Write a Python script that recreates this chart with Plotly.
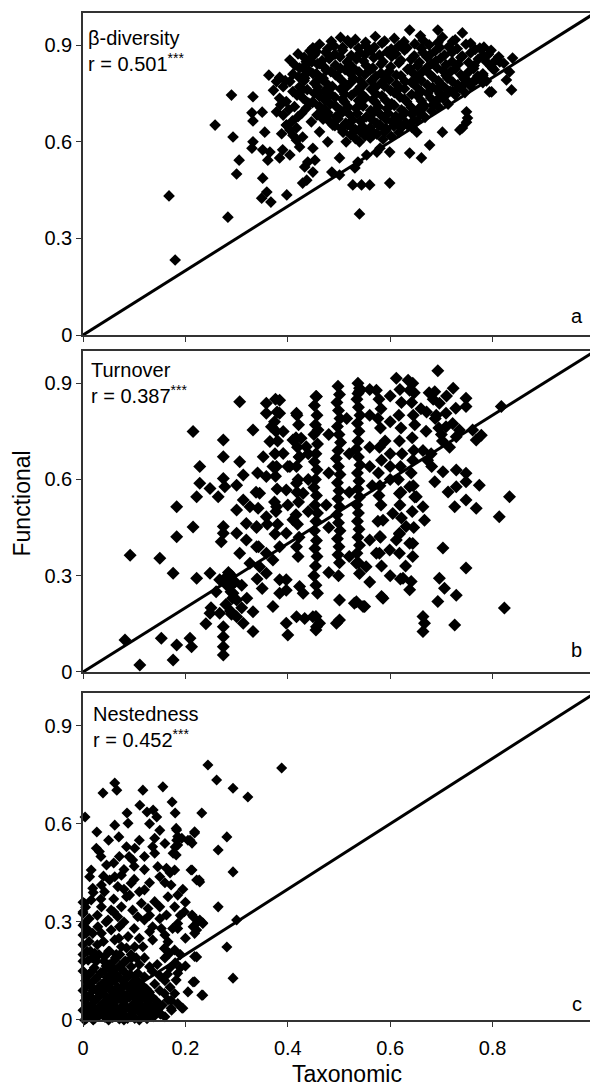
import plotly.graph_objects as go

# ---------------- data ----------------
x_ticks = [0, 0.2, 0.4, 0.6, 0.8, 1]
x_tick_labels = ["0", "0.2", "0.4", "0.6", "0.8", "1"]
y_ticks = [0, 0.3, 0.6, 0.9]
y_tick_labels = ["0", "0.3", "0.6", "0.9"]
ref_line = [0, 1]

# Panel a: beta-diversity
beta_x = [0.168, 0.18, 0.283, 0.258, 0.29, 0.293, 0.305, 0.30, 0.332, 0.33, 0.332, 0.35, 0.363, 0.384,
          0.355, 0.332, 0.33, 0.351, 0.365, 0.361, 0.351, 0.359, 0.349, 0.367, 0.398, 0.384, 0.39, 0.404,
          0.398, 0.404, 0.41, 0.417, 0.423, 0.429, 0.404, 0.414, 0.423, 0.42, 0.449, 0.447, 0.433, 0.439,
          0.449, 0.453, 0.449, 0.429, 0.437, 0.449, 0.457, 0.478, 0.486, 0.501, 0.501, 0.527, 0.544, 0.56,
          0.54, 0.599, 0.531, 0.537, 0.554, 0.574, 0.58, 0.599, 0.638, 0.661, 0.677, 0.652, 0.702, 0.736,
          0.749, 0.749, 0.794, 0.775, 0.741, 0.693, 0.638, 0.814, 0.833, 0.827, 0.837, 0.798, 0.751, 0.741,
          0.839,
          0.378, 0.391, 0.404, 0.384, 0.397, 0.41, 0.423, 0.43, 0.413, 0.391, 0.378, 0.42, 0.436, 0.397,
          0.446, 0.433, 0.449, 0.462, 0.475, 0.436, 0.456, 0.469, 0.459, 0.475, 0.465, 0.478, 0.488, 0.462,
          0.508, 0.514, 0.527, 0.54, 0.553, 0.566, 0.58, 0.592, 0.612, 0.625, 0.645, 0.664, 0.683, 0.703,
          0.722, 0.742, 0.762, 0.781, 0.80,
          0.503, 0.532, 0.571, 0.608, 0.659, 0.702, 0.727,
          0.462, 0.491, 0.523, 0.552, 0.584, 0.617, 0.648, 0.676, 0.714, 0.748, 0.783,
          0.443, 0.474, 0.507, 0.541, 0.563, 0.594, 0.628, 0.664, 0.688, 0.721, 0.757, 0.792,
          0.432, 0.481, 0.502, 0.534, 0.568, 0.603, 0.641, 0.672, 0.698, 0.738, 0.772, 0.806,
          0.458, 0.493, 0.518, 0.553, 0.582, 0.617, 0.653, 0.681, 0.709, 0.733, 0.764, 0.797,
          0.441, 0.484, 0.512, 0.539, 0.561, 0.598, 0.634, 0.662, 0.703, 0.718, 0.752, 0.781,
          0.421, 0.463, 0.497, 0.528, 0.572, 0.593, 0.621, 0.654, 0.683, 0.712, 0.744, 0.768, 0.788,
          0.452, 0.478, 0.523, 0.548, 0.583, 0.612, 0.641, 0.673, 0.698, 0.732, 0.757,
          0.438, 0.472, 0.503, 0.534, 0.563, 0.601, 0.628, 0.661, 0.692, 0.717, 0.746,
          0.461, 0.492, 0.524, 0.552, 0.584, 0.619, 0.652, 0.679, 0.706,
          0.448, 0.483, 0.511, 0.542, 0.571, 0.603, 0.632, 0.664, 0.688, 0.713,
          0.472, 0.503, 0.533, 0.562, 0.594, 0.622, 0.657, 0.681,
          0.463, 0.494, 0.521, 0.553, 0.582, 0.611, 0.643, 0.668,
          0.482, 0.513, 0.542, 0.574, 0.603, 0.631, 0.653,
          0.504, 0.532, 0.561, 0.592, 0.621, 0.642,
          0.523, 0.551, 0.574, 0.602]
beta_y = [0.432, 0.233, 0.366, 0.652, 0.745, 0.615, 0.543, 0.50, 0.74, 0.69, 0.665, 0.692, 0.807, 0.80,
          0.63, 0.60, 0.58, 0.575, 0.568, 0.543, 0.487, 0.444, 0.425, 0.413, 0.435, 0.55, 0.575, 0.559,
          0.652, 0.637, 0.62, 0.605, 0.584, 0.615, 0.854, 0.838, 0.829, 0.873, 0.87, 0.848, 0.522, 0.537,
          0.506, 0.543, 0.58, 0.472, 0.481, 0.724, 0.683, 0.60, 0.506, 0.55, 0.497, 0.466, 0.466, 0.466,
          0.376, 0.472, 0.519, 0.537, 0.559, 0.568, 0.58, 0.568, 0.565, 0.55, 0.59, 0.63, 0.63, 0.637,
          0.661, 0.693, 0.755, 0.891, 0.938, 0.947, 0.947, 0.848, 0.817, 0.792, 0.761, 0.755, 0.674, 0.643,
          0.86,
          0.787, 0.771, 0.787, 0.735, 0.725, 0.756, 0.771, 0.735, 0.709, 0.683, 0.693, 0.678, 0.704, 0.652,
          0.662, 0.797, 0.812, 0.843, 0.822, 0.849, 0.88, 0.797, 0.756, 0.735, 0.704, 0.683, 0.652, 0.631,
          0.631, 0.60, 0.642, 0.60, 0.631, 0.621, 0.652, 0.642, 0.662, 0.683, 0.693, 0.704, 0.714, 0.735,
          0.756, 0.776, 0.787, 0.807, 0.828,
          0.924, 0.918, 0.927, 0.921, 0.929, 0.925, 0.917,
          0.903, 0.897, 0.905, 0.899, 0.906, 0.898, 0.904, 0.901, 0.895, 0.903, 0.894,
          0.882, 0.878, 0.884, 0.876, 0.883, 0.879, 0.885, 0.877, 0.882, 0.878, 0.876, 0.872,
          0.862, 0.858, 0.864, 0.857, 0.861, 0.865, 0.856, 0.863, 0.859, 0.862, 0.857, 0.853,
          0.842, 0.838, 0.844, 0.837, 0.841, 0.845, 0.836, 0.843, 0.839, 0.842, 0.837, 0.834,
          0.822, 0.818, 0.824, 0.817, 0.823, 0.819, 0.825, 0.816, 0.821, 0.818, 0.815, 0.811,
          0.802, 0.798, 0.804, 0.797, 0.803, 0.799, 0.805, 0.796, 0.801, 0.798, 0.795, 0.792, 0.789,
          0.782, 0.778, 0.784, 0.777, 0.783, 0.779, 0.785, 0.776, 0.781, 0.777, 0.773,
          0.762, 0.758, 0.764, 0.757, 0.763, 0.759, 0.765, 0.756, 0.761, 0.757, 0.753,
          0.742, 0.738, 0.744, 0.737, 0.743, 0.739, 0.745, 0.736, 0.741,
          0.722, 0.718, 0.724, 0.717, 0.723, 0.719, 0.725, 0.716, 0.721, 0.717,
          0.702, 0.698, 0.704, 0.697, 0.703, 0.699, 0.705, 0.696,
          0.682, 0.678, 0.684, 0.677, 0.683, 0.679, 0.685, 0.676,
          0.662, 0.658, 0.664, 0.657, 0.663, 0.659, 0.665,
          0.642, 0.638, 0.644, 0.637, 0.643, 0.645,
          0.622, 0.618, 0.624, 0.617]
beta_extra = [
    (0.485, 0.912), (0.517, 0.914), (0.552, 0.909), (0.589, 0.913), (0.627, 0.911), (0.664, 0.915),
    (0.693, 0.908), (0.722, 0.912), (0.757, 0.906),
    (0.449, 0.892), (0.478, 0.889), (0.507, 0.893), (0.538, 0.891), (0.569, 0.894), (0.602, 0.888),
    (0.633, 0.892), (0.661, 0.890), (0.697, 0.893), (0.731, 0.889), (0.766, 0.887), (0.797, 0.884),
    (0.452, 0.870), (0.492, 0.872), (0.524, 0.868), (0.551, 0.871), (0.579, 0.869), (0.611, 0.873),
    (0.647, 0.867), (0.678, 0.871), (0.706, 0.869), (0.741, 0.866), (0.781, 0.868), (0.812, 0.864),
    (0.441, 0.850), (0.467, 0.852), (0.516, 0.848), (0.548, 0.851), (0.586, 0.849), (0.621, 0.853),
    (0.657, 0.847), (0.689, 0.851), (0.721, 0.849), (0.753, 0.846), (0.788, 0.848), (0.822, 0.844),
    (0.429, 0.830), (0.471, 0.832), (0.503, 0.828), (0.527, 0.831), (0.566, 0.829), (0.601, 0.833),
    (0.638, 0.827), (0.672, 0.831), (0.692, 0.829), (0.727, 0.826), (0.763, 0.828), (0.803, 0.824),
    (0.435, 0.810), (0.456, 0.812), (0.493, 0.808), (0.523, 0.811), (0.551, 0.809), (0.582, 0.813),
    (0.612, 0.807), (0.646, 0.811), (0.678, 0.809), (0.709, 0.806), (0.738, 0.808), (0.771, 0.804),
    (0.432, 0.790), (0.468, 0.792), (0.507, 0.788), (0.541, 0.791), (0.563, 0.789), (0.598, 0.793),
    (0.629, 0.787), (0.661, 0.791), (0.694, 0.789), (0.722, 0.786), (0.752, 0.788), (0.781, 0.784),
    (0.458, 0.770), (0.487, 0.772), (0.513, 0.768), (0.542, 0.771), (0.571, 0.769), (0.589, 0.773),
    (0.618, 0.767), (0.651, 0.771), (0.683, 0.769), (0.708, 0.766), (0.735, 0.768),
    (0.452, 0.750), (0.481, 0.752), (0.511, 0.748), (0.543, 0.751), (0.572, 0.749), (0.608, 0.753),
    (0.642, 0.747), (0.673, 0.751), (0.697, 0.749), (0.727, 0.746),
    (0.472, 0.730), (0.507, 0.732), (0.538, 0.728), (0.566, 0.731), (0.591, 0.729), (0.628, 0.733),
    (0.661, 0.727), (0.692, 0.731),
    (0.462, 0.710), (0.493, 0.712), (0.518, 0.708), (0.547, 0.711), (0.577, 0.709), (0.608, 0.713),
    (0.641, 0.707), (0.667, 0.711), (0.694, 0.709),
    (0.478, 0.690), (0.507, 0.692), (0.536, 0.688), (0.568, 0.691), (0.596, 0.689), (0.627, 0.693),
    (0.659, 0.687),
    (0.469, 0.670), (0.498, 0.672), (0.527, 0.668), (0.563, 0.671), (0.592, 0.669), (0.618, 0.673),
    (0.646, 0.667),
    (0.492, 0.650), (0.517, 0.652), (0.546, 0.648), (0.578, 0.651), (0.607, 0.649), (0.633, 0.653),
    (0.508, 0.630), (0.541, 0.632), (0.568, 0.628), (0.589, 0.631), (0.617, 0.629),
    (0.532, 0.610), (0.561, 0.612), (0.586, 0.608),
    (0.372, 0.760), (0.386, 0.715), (0.402, 0.700), (0.418, 0.745), (0.427, 0.688), (0.441, 0.720),
    (0.409, 0.665), (0.388, 0.625), (0.417, 0.643), (0.395, 0.790), (0.410, 0.810), (0.428, 0.760),
]

# Panel b: turnover
turn_x = [0.092, 0.082, 0.111, 0.15, 0.176, 0.153, 0.183, 0.176, 0.209, 0.212, 0.183, 0.215, 0.183, 0.215,
          0.228, 0.228, 0.222, 0.248, 0.222, 0.248, 0.274, 0.274, 0.274, 0.277, 0.264, 0.306, 0.306, 0.30,
          0.313, 0.274, 0.274, 0.27, 0.267, 0.287, 0.293, 0.30, 0.248, 0.267, 0.274, 0.274, 0.274, 0.274,
          0.30, 0.313, 0.332, 0.332, 0.332, 0.358, 0.384, 0.358, 0.368, 0.384, 0.391, 0.365, 0.417, 0.426,
          0.456, 0.459,
          0.30, 0.313, 0.326, 0.319, 0.339, 0.30, 0.319, 0.339, 0.306, 0.326, 0.345, 0.358, 0.371, 0.358,
          0.384, 0.397, 0.41, 0.358, 0.378, 0.345, 0.358, 0.371, 0.352, 0.391, 0.404, 0.417, 0.43, 0.397,
          0.423, 0.436, 0.41, 0.384, 0.397, 0.384, 0.423, 0.43, 0.371, 0.397, 0.449, 0.456, 0.433, 0.417,
          0.40, 0.397, 0.495, 0.534, 0.55, 0.586, 0.625, 0.641, 0.638,
          0.693, 0.612, 0.635, 0.638, 0.573, 0.54, 0.537, 0.687, 0.723, 0.748, 0.748, 0.728, 0.709, 0.696,
          0.709, 0.722, 0.735, 0.729, 0.761, 0.778, 0.768, 0.817, 0.833, 0.813, 0.774, 0.748, 0.729, 0.726,
          0.748, 0.768, 0.713, 0.687, 0.703, 0.729, 0.748, 0.703, 0.748, 0.823, 0.729, 0.726, 0.696, 0.706,
          0.693, 0.664, 0.667, 0.664, 0.583, 0.53, 0.547, 0.501, 0.501, 0.455, 0.455, 0.462,
          0.664, 0.667, 0.651, 0.638, 0.618, 0.605, 0.586, 0.618, 0.631, 0.612, 0.638, 0.618, 0.644, 0.599,
          0.58, 0.573, 0.553, 0.54, 0.534, 0.56,
          0.455, 0.452, 0.457, 0.454, 0.451, 0.458, 0.455, 0.452, 0.457, 0.454, 0.451, 0.456, 0.453, 0.458,
          0.455, 0.452, 0.456, 0.453, 0.457, 0.454, 0.451, 0.455, 0.458,
          0.498, 0.501, 0.496, 0.499, 0.502, 0.497, 0.500, 0.503, 0.498, 0.495, 0.499, 0.502, 0.497, 0.500,
          0.498, 0.501, 0.496, 0.499, 0.502, 0.497, 0.500, 0.498, 0.501, 0.499,
          0.537, 0.540, 0.535, 0.538, 0.541, 0.536, 0.539, 0.537, 0.534, 0.538, 0.541, 0.536, 0.539, 0.537,
          0.540, 0.535, 0.538, 0.536, 0.539, 0.537, 0.540, 0.535, 0.538,
          0.578, 0.582, 0.576, 0.581, 0.579, 0.583, 0.577, 0.580, 0.578, 0.582, 0.576, 0.581, 0.579, 0.583,
          0.619, 0.622, 0.617, 0.621, 0.618, 0.623, 0.620, 0.616, 0.621, 0.619, 0.622, 0.618, 0.620,
          0.644, 0.647, 0.642, 0.645, 0.648, 0.643, 0.646, 0.644, 0.641, 0.645, 0.648, 0.643, 0.646, 0.644,
          0.418, 0.421, 0.416, 0.419, 0.422, 0.417, 0.420, 0.418, 0.421, 0.416, 0.419, 0.422, 0.417, 0.420,
          0.376, 0.379, 0.374, 0.377, 0.380, 0.375, 0.378, 0.376, 0.379, 0.374, 0.377, 0.380, 0.375,
          0.341, 0.338, 0.342, 0.339, 0.343, 0.340,
          0.281, 0.289, 0.276, 0.292, 0.284, 0.297, 0.279, 0.288,
          0.676, 0.684, 0.671, 0.688, 0.695, 0.702, 0.716, 0.673, 0.681, 0.664]
turn_y = [0.364, 0.10, 0.022, 0.354, 0.308, 0.105, 0.084, 0.037, 0.105, 0.079, 0.421, 0.452, 0.515, 0.749,
          0.64, 0.588, 0.546, 0.572, 0.292, 0.308, 0.723, 0.671, 0.603, 0.577, 0.546, 0.842, 0.655, 0.582,
          0.614, 0.453, 0.432, 0.406, 0.287, 0.266, 0.245, 0.224, 0.183, 0.183, 0.141, 0.11, 0.079, 0.053,
          0.172, 0.152, 0.188, 0.126, 0.754, 0.837, 0.847, 0.806, 0.764, 0.806, 0.749, 0.718, 0.806, 0.728,
          0.858, 0.754,
          0.505, 0.536, 0.515, 0.463, 0.453, 0.432, 0.411, 0.39, 0.37, 0.339, 0.328, 0.308, 0.349, 0.37,
          0.39, 0.432, 0.474, 0.484, 0.515, 0.557, 0.609, 0.64, 0.671, 0.681, 0.64, 0.588, 0.557, 0.567,
          0.671, 0.702, 0.723, 0.287, 0.255, 0.245, 0.266, 0.245, 0.204, 0.287, 0.172, 0.141, 0.167, 0.172,
          0.115, 0.152, 0.152, 0.219, 0.204, 0.23, 0.292, 0.282, 0.256,
          0.939, 0.915, 0.909, 0.878, 0.878, 0.884, 0.868, 0.873, 0.884, 0.853, 0.827, 0.822, 0.806, 0.837,
          0.764, 0.774, 0.754, 0.733, 0.754, 0.738, 0.723, 0.827, 0.546, 0.484, 0.582, 0.593, 0.577, 0.515,
          0.536, 0.51, 0.561, 0.593, 0.624, 0.629, 0.619, 0.386, 0.324, 0.199, 0.239, 0.146, 0.292, 0.261,
          0.22, 0.173, 0.152, 0.126, 0.235, 0.214, 0.204, 0.162, 0.224, 0.173, 0.131, 0.152,
          0.515, 0.473, 0.546, 0.577, 0.556, 0.494, 0.473, 0.432, 0.453, 0.411, 0.401, 0.37, 0.36, 0.38,
          0.422, 0.37, 0.328, 0.307, 0.339, 0.411,
          0.858, 0.83, 0.80, 0.77, 0.74, 0.71, 0.68, 0.655, 0.63, 0.60, 0.575, 0.55, 0.52, 0.495,
          0.47, 0.44, 0.41, 0.385, 0.36, 0.33, 0.30, 0.27, 0.245,
          0.89, 0.865, 0.84, 0.815, 0.79, 0.765, 0.74, 0.715, 0.69, 0.665, 0.64, 0.615, 0.59, 0.565,
          0.54, 0.515, 0.49, 0.465, 0.44, 0.415, 0.39, 0.365, 0.34, 0.30,
          0.90, 0.875, 0.85, 0.825, 0.80, 0.775, 0.75, 0.72, 0.695, 0.67, 0.645, 0.62, 0.595, 0.57,
          0.545, 0.52, 0.495, 0.47, 0.445, 0.42, 0.395, 0.37, 0.34,
          0.85, 0.82, 0.79, 0.76, 0.70, 0.66, 0.62, 0.58, 0.55, 0.52, 0.47, 0.42, 0.37, 0.33,
          0.88, 0.84, 0.80, 0.76, 0.72, 0.68, 0.64, 0.60, 0.56, 0.52, 0.48, 0.43, 0.29,
          0.90, 0.87, 0.84, 0.80, 0.77, 0.73, 0.69, 0.66, 0.62, 0.58, 0.545, 0.50, 0.45, 0.40,
          0.80, 0.77, 0.73, 0.70, 0.67, 0.64, 0.60, 0.56, 0.53, 0.49, 0.46, 0.42, 0.39, 0.36,
          0.85, 0.81, 0.78, 0.75, 0.72, 0.68, 0.64, 0.61, 0.57, 0.53, 0.50, 0.46, 0.43,
          0.62, 0.56, 0.51, 0.45, 0.39, 0.29,
          0.27, 0.25, 0.29, 0.23, 0.31, 0.28, 0.21, 0.19,
          0.87, 0.85, 0.81, 0.79, 0.76, 0.72, 0.70, 0.66, 0.64, 0.69]
turn_extra = [
    (0.56, 0.88), (0.60, 0.86), (0.56, 0.80), (0.60, 0.78), (0.59, 0.72), (0.56, 0.70), (0.60, 0.68),
    (0.56, 0.64), (0.60, 0.64), (0.565, 0.58), (0.60, 0.60), (0.66, 0.82), (0.67, 0.75), (0.68, 0.68),
    (0.69, 0.80), (0.70, 0.74), (0.71, 0.86), (0.48, 0.62), (0.48, 0.74), (0.475, 0.52), (0.48, 0.45),
    (0.52, 0.56), (0.52, 0.68), (0.515, 0.79), (0.44, 0.60), (0.44, 0.68), (0.44, 0.50), (0.40, 0.64),
    (0.40, 0.52), (0.36, 0.46), (0.35, 0.26), (0.32, 0.23), (0.31, 0.27), (0.29, 0.30), (0.26, 0.25),
    (0.25, 0.20), (0.29, 0.18), (0.31, 0.20), (0.24, 0.15), (0.48, 0.31), (0.52, 0.36), (0.56, 0.28),
    (0.60, 0.30), (0.63, 0.33),
]

# Panel c: nestedness
nest_x = [0.244, 0.261, 0.293, 0.322, 0.388, 0.264, 0.281, 0.293, 0.264, 0.30, 0.281, 0.293, 0.232, 0.222,
          0.215, 0.205, 0.193, 0.232, 0.218, 0.209, 0.213, 0.213, 0.228, 0.222, 0.213, 0.228, 0.234, 0.222,
          0.183, 0.183, 0.18, 0.176, 0.193, 0.174, 0.18, 0.156, 0.137, 0.144, 0.117, 0.111, 0.125, 0.062,
          0.066, 0.039, 0.004, 0.027, 0.086, 0.088, 0.062,
          0.182, 0.185, 0.218, 0.205, 0.185, 0.182, 0.14, 0.136, 0.12, 0.14, 0.101, 0.085, 0.071, 0.097,
          0.046, 0.026, 0.032, 0.016, 0.013, 0.019, 0.036, 0.042, 0.052, 0.062, 0.075, 0.068, 0.094, 0.085,
          0.091, 0.11, 0.12, 0.114, 0.127, 0.14, 0.15, 0.146, 0.163, 0.179, 0.15, 0.172, 0.166, 0.185,
          0.179, 0.163, 0.185, 0.185, 0.211, 0.227, 0.198, 0.215, 0.224, 0.234, 0.215, 0.218, 0.179, 0.166,
          0.153, 0.136, 0.12, 0.107, 0.097, 0.075, 0.068, 0.055, 0.049, 0.036, 0.016, 0.003, 0.0, 0.003,
          0.006, -0.003, 0.029, 0.019, 0.036, 0.055, 0.071, 0.088, 0.062, 0.075, 0.101, 0.117, 0.136, 0.159,
          0.169, 0.185, 0.182, 0.179, 0.159, 0.146, 0.166, 0.172, 0.195, 0.218, 0.218, 0.234, 0.13, 0.12,
          0.107, 0.094, 0.081, 0.062, 0.042, 0.023, 0.01, -0.003,
          0.0, 0.005, 0.0, 0.004, 0.0, 0.003, 0.012, 0.015, 0.013, 0.017, 0.012, 0.022, 0.025, 0.027,
          0.024, 0.028, 0.023, 0.035, 0.037, 0.033, 0.038, 0.036, 0.045, 0.047, 0.044, 0.048, 0.046, 0.043,
          0.056, 0.055, 0.058, 0.054, 0.057, 0.065, 0.068, 0.066, 0.064, 0.067, 0.076, 0.078, 0.075, 0.079,
          0.077, 0.086, 0.088, 0.085, 0.09, 0.087, 0.097, 0.096, 0.099, 0.095, 0.107, 0.105, 0.11, 0.108,
          0.118, 0.12, 0.116, 0.122, 0.13, 0.128, 0.133, 0.142, 0.145, 0.155, 0.14, 0.15, 0.16, 0.17,
          0.165, 0.16, 0.173, 0.185,
          0.008, 0.018, 0.031, 0.041, 0.052, 0.063, 0.072, 0.083, 0.094, 0.104, 0.02, 0.05, 0.08, 0.11,
          0.007, 0.028, 0.058, 0.092, 0.125, 0.152, 0.172, 0.19]
nest_y = [0.78, 0.734, 0.709, 0.682, 0.771, 0.52, 0.56, 0.453, 0.346, 0.306, 0.223, 0.128, 0.076, 0.193,
          0.116, 0.086, 0.037, 0.633, 0.572, 0.55, 0.541, 0.459, 0.422, 0.428, 0.321, 0.306, 0.297, 0.275,
          0.581, 0.55, 0.529, 0.51, 0.556, 0.667, 0.633, 0.713, 0.642, 0.621, 0.703, 0.657, 0.636, 0.725,
          0.703, 0.694, 0.621, 0.575, 0.633, 0.602, 0.596,
          0.586, 0.561, 0.576, 0.55, 0.535, 0.505, 0.556, 0.53, 0.50, 0.51, 0.525, 0.53, 0.50, 0.489,
          0.474, 0.525, 0.515, 0.459, 0.438, 0.403, 0.413, 0.392, 0.428, 0.438, 0.443, 0.408, 0.418, 0.377,
          0.382, 0.392, 0.398, 0.357, 0.341, 0.362, 0.346, 0.469, 0.464, 0.459, 0.438, 0.413, 0.377, 0.382,
          0.346, 0.321, 0.295, 0.28, 0.459, 0.428, 0.331, 0.316, 0.30, 0.295, 0.285, 0.265, 0.214, 0.239,
          0.28, 0.285, 0.306, 0.316, 0.336, 0.346, 0.316, 0.336, 0.306, 0.346, 0.367, 0.357, 0.326, 0.295,
          0.265, 0.245, 0.285, 0.265, 0.265, 0.275, 0.285, 0.255, 0.245, 0.224, 0.224, 0.224, 0.245, 0.219,
          0.204, 0.143, 0.122, 0.081, 0.081, 0.041, 0.061, 0.036, 0.036, 0.194, 0.117, 0.076, 0.163, 0.132,
          0.143, 0.163, 0.178, 0.183, 0.194, 0.204, 0.183, 0.173,
          0.15, 0.12, 0.09, 0.06, 0.03, 0.0, 0.14, 0.105, 0.075, 0.045, 0.015, 0.16, 0.125, 0.09,
          0.06, 0.03, 0.005, 0.145, 0.11, 0.08, 0.05, 0.02, 0.165, 0.13, 0.095, 0.065, 0.035, 0.008,
          0.15, 0.115, 0.085, 0.05, 0.02, 0.14, 0.10, 0.07, 0.04, 0.01, 0.155, 0.12, 0.085, 0.055,
          0.025, 0.13, 0.10, 0.065, 0.035, 0.005, 0.115, 0.08, 0.05, 0.02, 0.12, 0.09, 0.06, 0.03,
          0.10, 0.07, 0.04, 0.012, 0.085, 0.05, 0.025, 0.06, 0.03, 0.045, 0.11, 0.09, 0.12, 0.10,
          0.14, 0.01, 0.03, 0.05,
          0.21, 0.19, 0.2, 0.18, 0.21, 0.19, 0.2, 0.18, 0.2, 0.19, 0.0, 0.0, 0.0, 0.0,
          0.005, 0.015, 0.008, 0.012, 0.004, 0.018, 0.06, 0.16]
nest_extra = [
    (0.006, 0.135), (0.008, 0.105), (0.006, 0.075), (0.009, 0.045), (0.007, 0.015),
    (0.018, 0.150), (0.020, 0.120), (0.019, 0.090), (0.021, 0.060), (0.018, 0.030), (0.020, 0.002),
    (0.030, 0.135), (0.031, 0.100), (0.030, 0.070), (0.032, 0.040), (0.031, 0.012),
    (0.041, 0.150), (0.042, 0.115), (0.040, 0.080), (0.043, 0.050), (0.041, 0.020),
    (0.051, 0.170), (0.052, 0.135), (0.050, 0.100), (0.053, 0.070), (0.051, 0.035), (0.050, 0.005),
    (0.061, 0.155), (0.062, 0.120), (0.060, 0.090), (0.061, 0.055), (0.062, 0.025),
    (0.072, 0.165), (0.071, 0.130), (0.073, 0.095), (0.070, 0.065), (0.072, 0.035), (0.071, 0.003),
    (0.082, 0.145), (0.081, 0.110), (0.083, 0.075), (0.082, 0.045), (0.080, 0.015),
    (0.092, 0.140), (0.093, 0.105), (0.091, 0.070), (0.094, 0.040), (0.092, 0.010),
    (0.102, 0.135), (0.101, 0.100), (0.103, 0.065), (0.102, 0.035), (0.101, 0.005),
    (0.113, 0.110), (0.112, 0.080), (0.114, 0.045), (0.113, 0.018),
    (0.124, 0.095), (0.125, 0.060), (0.123, 0.032), (0.135, 0.070), (0.137, 0.040), (0.138, 0.010),
    (0.148, 0.050), (0.150, 0.020),
    (0.0, 0.18), (0.0, 0.20), (0.0, 0.23), (0.0, 0.26), (0.0, 0.29), (0.0, 0.33), (0.0, 0.36),
    (0.005, 0.345), (0.012, 0.31), (0.010, 0.275), (0.012, 0.24), (0.015, 0.21), (0.028, 0.23),
    (0.040, 0.24), (0.026, 0.18), (0.050, 0.21), (0.065, 0.20), (0.070, 0.25), (0.085, 0.22),
    (0.095, 0.19), (0.110, 0.17), (0.120, 0.19), (0.135, 0.15), (0.150, 0.135), (0.145, 0.17),
    (0.170, 0.16), (0.180, 0.175), (0.190, 0.20), (0.200, 0.165), (0.160, 0.19), (0.028, 0.32),
    (0.045, 0.30), (0.060, 0.33), (0.080, 0.30), (0.100, 0.28), (0.110, 0.25), (0.130, 0.27),
    (0.020, 0.39), (0.035, 0.37), (0.060, 0.37), (0.080, 0.40), (0.100, 0.43), (0.130, 0.42),
    (0.120, 0.46), (0.100, 0.47), (0.080, 0.46), (0.060, 0.48), (0.040, 0.44), (0.035, 0.50),
    (0.050, 0.55), (0.070, 0.56), (0.090, 0.50), (0.110, 0.55), (0.130, 0.60), (0.150, 0.58),
    (0.160, 0.54), (0.170, 0.45), (0.160, 0.42), (0.195, 0.40), (0.200, 0.36), (0.190, 0.32),
    (0.175, 0.28), (0.160, 0.26), (0.200, 0.25), (0.150, 0.31), (0.130, 0.32),
]

assert len(beta_x) == len(beta_y)
assert len(turn_x) == len(turn_y)
assert len(nest_x) == len(nest_y)


def combine(xs, ys, extra):
    return xs + [p[0] for p in extra], ys + [p[1] for p in extra]


bx, by = combine(beta_x, beta_y, beta_extra)
tx, ty = combine(turn_x, turn_y, turn_extra)
nx, ny = combine(nest_x, nest_y, nest_extra)

panels = [
    ("β-diversity", "r = 0.501<sup>***</sup>", "a", bx, by, 9),
    ("Turnover", "r = 0.387<sup>***</sup>", "b", tx, ty, 10),
    ("Nestedness", "r = 0.452<sup>***</sup>", "c", nx, ny, 8.5),
]
domains = [[0.6802, 1.0], [0.3456, 0.6643], [0.0, 0.3247]]
text_pos = [(0.006, 0.963), (0.012, 0.981), (0.016, 0.976)]
letter_pos = [(0.964, 0.059), (0.963, 0.0685), (0.964, 0.049)]

FONT = "Liberation Sans, Arial, sans-serif"

fig = go.Figure()
# the page body has an 8 px default margin at top/left, so the figure is 8 px smaller
layout = dict(
    width=590, height=1078,
    margin=dict(l=75, r=3, t=5, b=66),
    paper_bgcolor="white", plot_bgcolor="white",
    showlegend=False,
    font=dict(family=FONT, color="black"),
)
annotations = []
for i, (name, rtext, letter, xs, ys, msize) in enumerate(panels):
    n = "" if i == 0 else str(i + 1)
    xa, ya = "x" + n, "y" + n
    fig.add_trace(go.Scatter(x=ref_line, y=ref_line, mode="lines",
                             line=dict(color="black", width=3),
                             xaxis=xa, yaxis=ya, hoverinfo="skip"))
    fig.add_trace(go.Scatter(x=xs, y=ys, mode="markers",
                             marker=dict(symbol="diamond", size=msize, color="black",
                                         line=dict(width=0)),
                             cliponaxis=False, xaxis=xa, yaxis=ya))
    last = (i == len(panels) - 1)
    layout["xaxis" + n] = dict(
        domain=[0, 1], range=[0, 1], anchor=ya,
        tickvals=x_ticks, ticktext=x_tick_labels, showticklabels=last,
        ticks="outside", ticklen=5, tickwidth=1.2, tickcolor="#333",
        ticklabelstandoff=4, ticklabeloverflow="allow", automargin=False,
        showline=True, linecolor="#333", linewidth=1.5, mirror=True,
        showgrid=False, zeroline=False,
        tickfont=dict(size=20, family=FONT, color="black"),
    )
    layout["yaxis" + n] = dict(
        domain=domains[i], range=[0, 1], anchor=xa,
        tickvals=y_ticks, ticktext=y_tick_labels, automargin=False,
        ticks="outside", ticklen=5, tickwidth=1.2, tickcolor="#333",
        showline=True, linecolor="#333", linewidth=1.5, mirror=True,
        showgrid=False, zeroline=False,
        tickfont=dict(size=20, family=FONT, color="black"),
    )
    annotations.append(dict(
        text=name + "<br>" + rtext, xref=xa + " domain", yref=ya + " domain",
        x=text_pos[i][0], y=text_pos[i][1], xanchor="left", yanchor="top", align="left",
        showarrow=False, font=dict(size=20, family=FONT, color="black")))
    annotations.append(dict(
        text=letter, xref=xa + " domain", yref=ya + " domain",
        x=letter_pos[i][0], y=letter_pos[i][1], xanchor="center", yanchor="middle",
        showarrow=False, font=dict(size=20, family=FONT, color="black")))

annotations.append(dict(text="Functional", xref="paper", yref="paper",
                        x=-0.119, y=0.513, textangle=-90, showarrow=False,
                        xanchor="center", yanchor="middle",
                        font=dict(size=23, family=FONT, color="black")))
annotations.append(dict(text="Taxonomic", xref="paper", yref="paper",
                        x=0.516, y=-0.0536, showarrow=False,
                        xanchor="center", yanchor="middle",
                        font=dict(size=23, family=FONT, color="black")))
layout["annotations"] = annotations
fig.update_layout(**layout)
fig.write_html("out.html")
